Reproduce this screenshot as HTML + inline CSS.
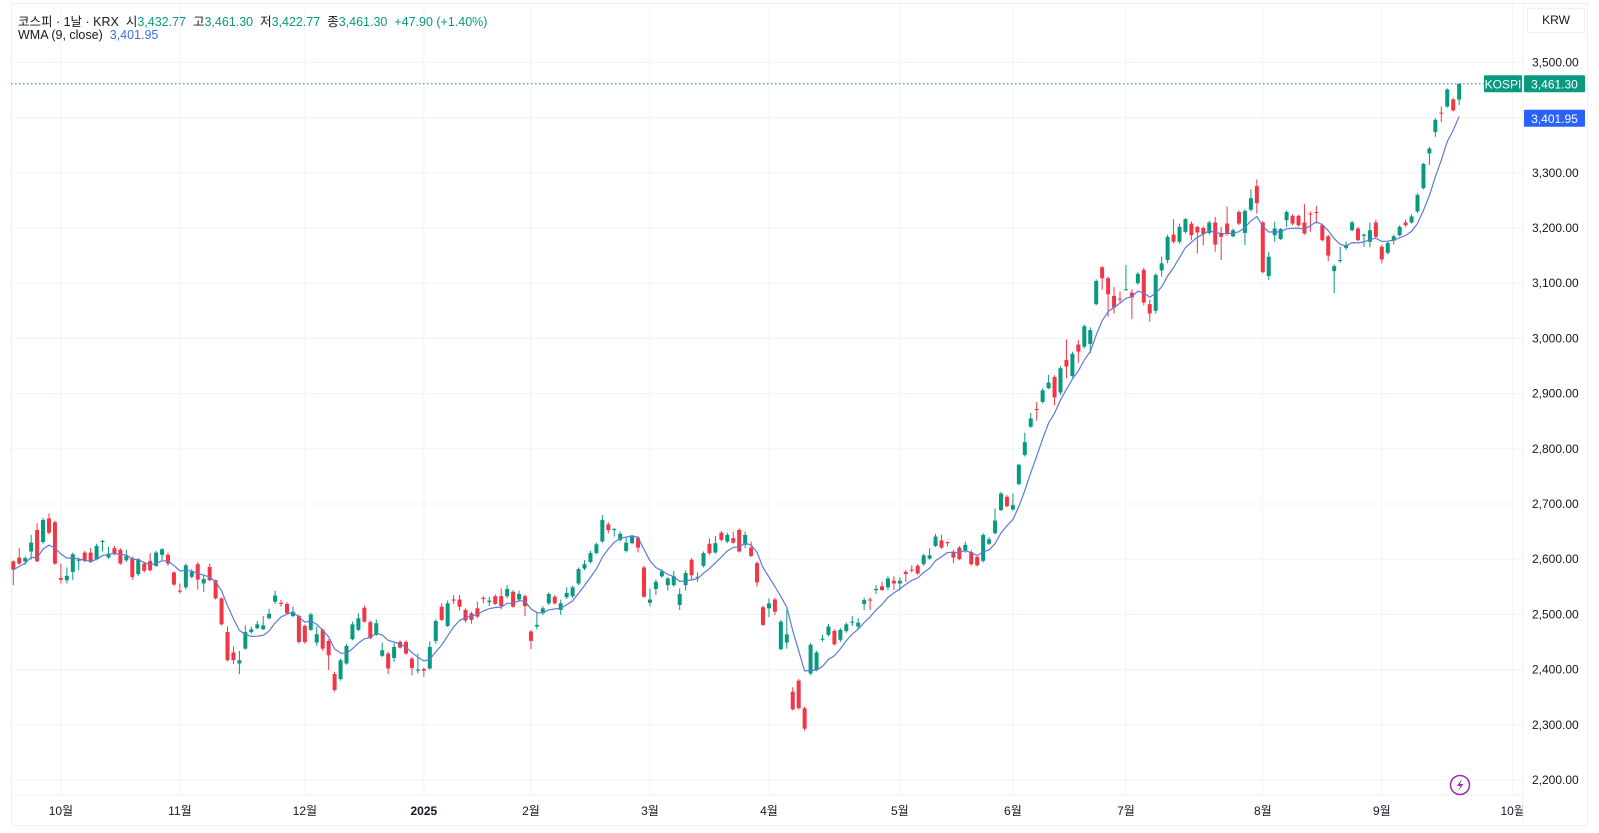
<!DOCTYPE html>
<html><head><meta charset="utf-8"><style>
html,body{margin:0;padding:0;background:#fff;}
body{width:1599px;height:833px;position:relative;overflow:hidden;font-family:"Liberation Sans","Noto Sans CJK KR",sans-serif;}
#frame{position:absolute;left:11px;top:3px;width:1577px;height:823px;border:1px solid #eef0f4;box-sizing:border-box;}
.hdr{position:absolute;left:18px;font-size:12.5px;color:#131722;white-space:nowrap;}
.g{color:#089981;}
.b{color:#2962ff;}
svg{position:absolute;left:0;top:0;}
</style></head><body>
<div id="frame"></div>
<svg id="chart" width="1599" height="833"></svg>
<div class="hdr" style="top:11px">코스피 · 1날 · KRX &nbsp;시<span class="g">3,432.77</span> &nbsp;고<span class="g">3,461.30</span> &nbsp;저<span class="g">3,422.77</span> &nbsp;종<span class="g">3,461.30</span> &nbsp;<span class="g">+47.90 (+1.40%)</span></div>
<div class="hdr" style="top:28px">WMA (9, close) &nbsp;<span class="b" style="color:#3d6fd9">3,401.95</span></div>
<div style="position:absolute;left:1527px;top:8px;width:58px;height:25px;border:1px solid #eef0f4;box-sizing:border-box;font-size:12px;color:#131722;line-height:23px;text-align:center;">KRW</div>
<script>
const opens=[2596,2603,2596,2614,2653,2631,2674,2667,2566,2562,2577,2597,2612,2612,2600,2632,2603,2620,2617,2598,2602,2573,2592,2597,2588,2608,2608,2576,2543,2549,2568,2591,2556,2586,2562,2529,2468,2431,2411,2438,2468,2475,2473,2493,2523,2521,2519,2497,2497,2479,2472,2449,2472,2452,2392,2383,2411,2455,2472,2512,2486,2463,2425,2429,2421,2450,2450,2420,2398,2401,2402,2452,2514,2479,2527,2527,2508,2502,2511,2530,2522,2533,2533,2533,2541,2527,2533,2469,2478,2502,2520,2532,2508,2531,2533,2556,2583,2595,2611,2632,2663,2653,2635,2615,2629,2639,2585,2521,2546,2569,2553,2553,2517,2553,2599,2566,2588,2628,2612,2648,2632,2638,2653,2626,2621,2593,2513,2511,2527,2437,2449,2360,2380,2330,2393,2399,2454,2463,2470,2454,2470,2485,2478,2519,2527,2544,2551,2549,2561,2556,2577,2581,2588,2591,2601,2624,2634,2631,2612,2621,2615,2613,2604,2597,2628,2647,2689,2713,2690,2736,2789,2840,2872,2885,2910,2930,2902,2961,2932,2989,2985,2990,3062,3129,3109,3077,3072,3088,3083,3100,3124,3062,3050,3123,3142,3188,3175,3193,3208,3202,3200,3191,3210,3191,3208,3185,3229,3191,3233,3276,3210,3113,3187,3180,3214,3222,3222,3210,3226,3229,3205,3185,3122,3141,3164,3196,3199,3186,3175,3210,3166,3155,3177,3187,3210,3210,3230,3272,3335,3374,3409,3420,3433,3432.77];
const highs=[2598,2620,2605,2644,2665,2675,2683,2670,2592,2585,2612,2603,2615,2620,2628,2635,2622,2624,2620,2617,2605,2602,2595,2611,2615,2620,2612,2578,2556,2592,2582,2595,2571,2592,2563,2531,2478,2442,2434,2480,2478,2488,2497,2510,2543,2526,2522,2514,2500,2482,2503,2478,2475,2455,2396,2420,2446,2487,2502,2516,2489,2491,2449,2432,2448,2453,2453,2423,2429,2404,2451,2491,2520,2525,2535,2535,2511,2505,2523,2533,2532,2536,2547,2553,2544,2543,2536,2472,2505,2515,2540,2535,2527,2549,2552,2585,2598,2615,2630,2680,2667,2656,2650,2640,2644,2642,2588,2547,2563,2582,2568,2579,2547,2580,2602,2576,2614,2638,2642,2651,2648,2650,2656,2650,2632,2596,2516,2529,2530,2490,2508,2368,2383,2333,2448,2434,2463,2483,2473,2475,2485,2497,2493,2530,2531,2553,2559,2569,2569,2567,2581,2589,2591,2610,2620,2646,2644,2632,2617,2624,2632,2617,2606,2647,2640,2692,2722,2716,2719,2773,2829,2865,2885,2910,2934,2933,2949,2998,2976,2997,3025,3020,3107,3131,3112,3093,3085,3133,3089,3120,3128,3070,3118,3148,3188,3216,3208,3218,3212,3204,3203,3213,3220,3202,3239,3199,3232,3234,3270,3288,3213,3157,3211,3200,3232,3225,3224,3243,3230,3240,3208,3188,3134,3166,3175,3213,3202,3190,3210,3215,3170,3176,3188,3205,3215,3225,3263,3318,3347,3399,3420,3453,3436,3461.3];
const lows=[2553,2590,2590,2599,2595,2628,2645,2590,2556,2556,2562,2580,2595,2593,2598,2614,2601,2607,2590,2595,2563,2570,2576,2578,2586,2598,2588,2552,2538,2545,2565,2545,2541,2560,2527,2480,2415,2410,2392,2436,2465,2473,2472,2491,2519,2514,2500,2495,2447,2447,2470,2443,2434,2399,2360,2380,2409,2453,2470,2485,2455,2461,2423,2392,2414,2438,2427,2390,2393,2387,2400,2447,2488,2477,2519,2507,2485,2483,2493,2520,2515,2517,2509,2529,2512,2523,2497,2437,2473,2499,2517,2518,2499,2528,2530,2553,2580,2592,2609,2630,2647,2641,2632,2612,2627,2612,2530,2515,2535,2566,2543,2550,2508,2543,2562,2559,2585,2608,2610,2632,2629,2628,2612,2620,2604,2550,2479,2495,2499,2435,2438,2326,2328,2289,2390,2397,2451,2460,2444,2450,2467,2479,2473,2508,2508,2537,2543,2544,2544,2543,2559,2576,2572,2588,2599,2622,2619,2623,2593,2598,2612,2588,2587,2594,2626,2645,2687,2694,2688,2734,2786,2838,2851,2882,2908,2879,2898,2928,2929,2956,2982,2973,3060,3088,3039,3045,3064,3087,3035,3097,3060,3030,3045,3112,3136,3172,3172,3190,3178,3154,3169,3188,3157,3142,3186,3183,3205,3169,3230,3226,3118,3106,3175,3178,3202,3205,3203,3188,3193,3208,3176,3140,3082,3137,3160,3194,3176,3166,3165,3181,3136,3152,3170,3185,3202,3208,3227,3270,3314,3365,3392,3418,3411,3422.77];
const closes=[2581,2592,2602,2630,2596,2671,2648,2592,2563,2570,2609,2599,2597,2595,2624,2633,2610,2609,2592,2606,2568,2600,2579,2580,2612,2618,2592,2554,2541,2589,2577,2563,2564,2562,2529,2482,2417,2417,2417,2468,2473,2482,2480,2501,2534,2519,2502,2505,2450,2450,2500,2464,2438,2426,2363,2417,2443,2482,2493,2487,2457,2484,2435,2402,2441,2440,2429,2403,2400,2398,2441,2488,2490,2520,2525,2514,2489,2490,2496,2528,2525,2519,2515,2546,2514,2537,2515,2452,2481,2511,2537,2520,2520,2539,2549,2582,2591,2611,2627,2671,2653,2655,2646,2630,2641,2621,2532,2527,2559,2578,2565,2569,2537,2575,2571,2568,2611,2611,2629,2635,2644,2630,2614,2644,2606,2558,2481,2520,2505,2487,2464,2328,2330,2293,2445,2431,2456,2478,2446,2472,2482,2487,2485,2526,2525,2546,2544,2565,2556,2561,2573,2580,2574,2607,2607,2641,2621,2629,2603,2600,2626,2591,2589,2644,2636,2670,2719,2696,2698,2771,2812,2855,2871,2906,2920,2893,2946,2949,2972,2976,3022,3015,3104,3109,3080,3056,3071,3089,3074,3117,3065,3045,3115,3136,3184,3175,3202,3216,3187,3192,3189,3210,3170,3184,3190,3196,3208,3231,3254,3245,3120,3148,3199,3198,3229,3208,3205,3190,3225,3228,3178,3150,3131,3142,3169,3210,3178,3188,3196,3184,3143,3173,3185,3202,3205,3221,3260,3316,3344,3396,3408,3451,3413,3461.3];
const priceTicks=[2200,2300,2400,2500,2600,2700,2800,2900,3000,3100,3200,3300,3400,3500];
const monthLabels=["10월","11월","12월","2025","2월","3월","4월","5월","6월","7월","8월","9월","10월"];
const monthIndex=[8,28,49,69,87,107,127,149,168,187,210,230,252];

const NS="http://www.w3.org/2000/svg";
const svg=document.getElementById('chart');
const X0=13.3, DX=5.95, PLOT_L=11, PLOT_R=1523, PLOT_B=795;
function xScale(i){return X0+DX*i;}
function yScale(p){return 504+(2700-p)*0.552;}
function mk(tag,attrs,parent){const e=document.createElementNS(NS,tag);for(const k in attrs)e.setAttribute(k,attrs[k]);(parent||svg).appendChild(e);return e;}
function fmt(v){return v.toLocaleString('en-US',{minimumFractionDigits:2,maximumFractionDigits:2});}

// grid
const grid=mk('g',{});


priceTicks.forEach(p=>{
  const l=mk('line',{x1:PLOT_L,x2:PLOT_R,y1:yScale(p),y2:yScale(p),stroke:'#f0f3fa','stroke-width':1},grid);
  
  
  const t=mk('text',{x:1532,y:yScale(p)+4,'font-size':12,fill:'#131722','font-family':'Liberation Sans, sans-serif'});
  t.textContent=fmt(p);
  
  
});
monthIndex.forEach((mi,k)=>{
  const x=xScale(mi);
  const l=mk('line',{x1:x,x2:x,y1:3,y2:PLOT_B,stroke:'#f0f3fa','stroke-width':1},grid);
  
  
  const t=mk('text',{x:x,y:815,'font-size':12,fill:'#131722','text-anchor':'middle','font-weight':monthLabels[k]==='2025'?'bold':'normal','font-family':'Liberation Sans, Noto Sans CJK KR, sans-serif'});
  t.textContent=monthLabels[k];
  
  
});
mk('line',{x1:PLOT_R,x2:PLOT_R,y1:3,y2:826,stroke:'#eef0f4'});
mk('line',{x1:PLOT_L,x2:PLOT_R,y1:PLOT_B,y2:PLOT_B,stroke:'#eef0f4'});

// last price dotted line
const last=closes[closes.length-1];
const dl=mk('line',{x1:PLOT_L,x2:1484,y1:yScale(last),y2:yScale(last),stroke:'#089981','stroke-width':1,'stroke-dasharray':'1.5,2.5'});



// candles
const cg=mk('g',{});


for(let i=0;i<closes.length;i++){
  const up=closes[i]>=opens[i];
  const col=up?'#089981':'#f23645';
  const x=xScale(i);
  const g=mk('g',{},cg);
  
  
  mk('line',{x1:x,x2:x,y1:yScale(highs[i]),y2:yScale(lows[i]),stroke:col,'stroke-width':1},g);
  const yt=yScale(Math.max(opens[i],closes[i])), yb=yScale(Math.min(opens[i],closes[i]));
  mk('rect',{x:x-2,y:yt,width:4,height:Math.max(1,yb-yt),fill:col},g);
}

// WMA 9
const wma=[];
for(let i=0;i<closes.length;i++){
  let s=0,w=0;
  for(let k=0;k<9&&i-k>=0;k++){const wt=9-k;s+=closes[i-k]*wt;w+=wt;}
  wma.push(s/w);
}
const pts=wma.map((v,i)=>xScale(i).toFixed(1)+','+yScale(v).toFixed(1)).join(' ');
const wl=mk('polyline',{points:pts,fill:'none',stroke:'#5b7bd8','stroke-width':1.2});



// price labels
function label(x,y,w,bg,txt,name){
  const g=mk('g',{});
  
  
  mk('rect',{x:x,y:y-8.5,width:w,height:17,fill:bg,rx:1},g);
  const t=mk('text',{x:x+w/2,y:y+4.5,'font-size':12,fill:'#fff','text-anchor':'middle','font-family':'Liberation Sans, sans-serif'},g);
  t.textContent=txt;
}
label(1484,yScale(last),38,'#089981','KOSPI','symbol-label');
label(1524,yScale(last),61,'#089981',fmt(last),'last-price-label');
label(1524,yScale(wma[wma.length-1])+2,61,'#2962ff',fmt(3401.95),'wma-price-label');

// lightning icon
const lg=mk('g',{});


mk('circle',{cx:1460,cy:785,r:9.5,fill:'#fff',stroke:'#9c27b0','stroke-width':1.5},lg);
mk('path',{d:'M1462 779 L1457 786 L1460.5 786 L1458 791 L1463.5 784 L1460 784 Z',fill:'#9c27b0'},lg);
</script>
</body></html>
